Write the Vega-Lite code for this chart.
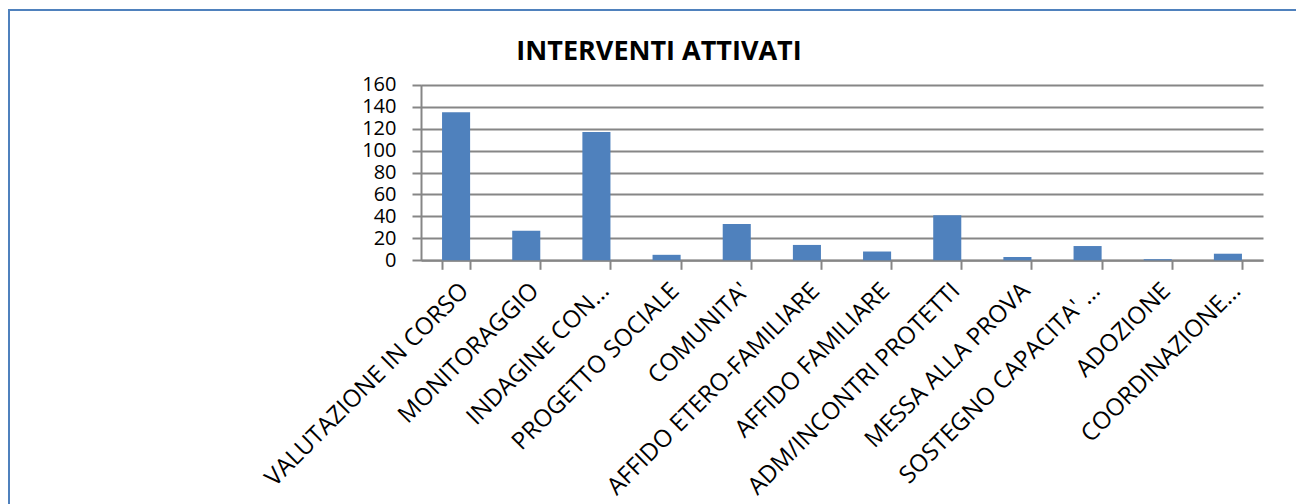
{
  "$schema": "https://vega.github.io/schema/vega-lite/v6.json",
  "autosize": "none",
  "padding": {"left": 9, "top": 10, "right": 0, "bottom": 0},
  "width": 1300,
  "height": 510,
  "background": "white",
  "title": {
    "text": "INTERVENTI ATTIVATI",
    "font": "Open Sans",
    "fontSize": 27,
    "fontWeight": "bold",
    "color": "#000000",
    "anchor": "middle",
    "frame": "group",
    "baseline": "alphabetic",
    "offset": -77
  },
  "data": {
    "values": [
      {"intervento": "VALUTAZIONE IN CORSO", "n": 135},
      {"intervento": "MONITORAGGIO", "n": 27},
      {"intervento": "INDAGINE CON…", "n": 117},
      {"intervento": "PROGETTO SOCIALE", "n": 5},
      {"intervento": "COMUNITA'", "n": 33},
      {"intervento": "AFFIDO ETERO-FAMILIARE", "n": 14},
      {"intervento": "AFFIDO FAMILIARE", "n": 8},
      {"intervento": "ADM/INCONTRI PROTETTI", "n": 41},
      {"intervento": "MESSA ALLA PROVA", "n": 3},
      {"intervento": "SOSTEGNO CAPACITA' …", "n": 13},
      {"intervento": "ADOZIONE", "n": 1},
      {"intervento": "COORDINAZIONE…", "n": 6}
    ]
  },
  "mark": {"type": "bar", "color": "#4F81BD"},
  "encoding": {
    "x": {
      "field": "intervento",
      "type": "nominal",
      "sort": null,
      "scale": {"range": [412, 1254], "paddingInner": 0.6, "paddingOuter": 0.3},
      "axis": {
        "title": null,
        "orient": "bottom",
        "offset": -259.7,
        "grid": false,
        "tickBand": "extent",
        "domainColor": "#868686",
        "domainWidth": 2,
        "tickColor": "#868686",
        "tickWidth": 2,
        "tickSize": 9,
        "labelAngle": -45,
        "labelFont": "Open Sans",
        "labelFontSize": 24,
        "labelColor": "#000000",
        "labelPadding": 9,
        "labelLimit": 400
      }
    },
    "y": {
      "field": "n",
      "type": "quantitative",
      "scale": {"domain": [0, 160], "range": [250.3, 74.7], "nice": false},
      "axis": {
        "title": null,
        "orient": "left",
        "offset": -412,
        "values": [0, 20, 40, 60, 80, 100, 120, 140, 160],
        "grid": true,
        "gridColor": "#868686",
        "gridWidth": 2,
        "domainColor": "#868686",
        "domainWidth": 2,
        "tickColor": "#868686",
        "tickWidth": 2,
        "tickSize": 9,
        "labelFont": "Open Sans",
        "labelFontSize": 20,
        "labelColor": "#000000",
        "labelPadding": 16
      }
    }
  },
  "config": {
    "view": {"stroke": "#4F81BD", "strokeWidth": 2, "fill": "white"}
  }
}
